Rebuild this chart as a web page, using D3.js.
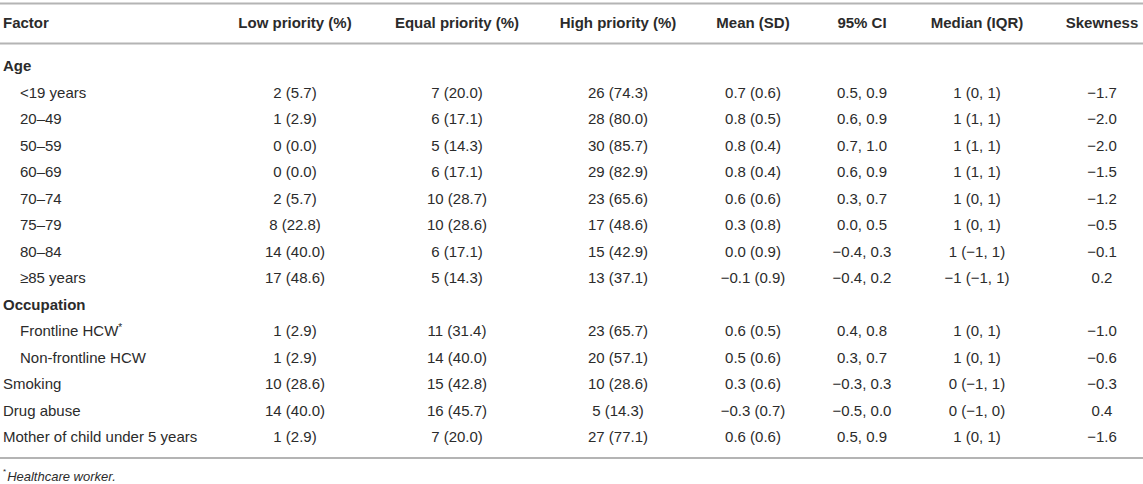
<!DOCTYPE html>
<html lang="en">
<head>
<meta charset="UTF-8">
<title>Priority by factor</title>
<script src="https://d3js.org/d3.v7.min.js"></script>
<style>
  body { margin: 0; background: #fff; }
  text { font-family: "Liberation Sans", Arial, Helvetica, sans-serif; fill: #2b2b2b; }
</style>
</head>
<body>
<div id="table"></div>
<script>
// row labels (group = heading the row sits under, null for top level rows)
const factors = ["<19 years", "20–49", "50–59", "60–69", "70–74", "75–79", "80–84", "≥85 years",
                 "Frontline HCW", "Non-frontline HCW", "Smoking", "Drug abuse", "Mother of child under 5 years"];
const groups = ["Age", "Age", "Age", "Age", "Age", "Age", "Age", "Age",
                "Occupation", "Occupation", null, null, null];
const footnoteRow = "Frontline HCW";

const columns = ["Factor", "Low priority (%)", "Equal priority (%)", "High priority (%)",
                 "Mean (SD)", "95% CI", "Median (IQR)", "Skewness"];

// values
const lowN = [2, 1, 0, 0, 2, 8, 14, 17, 1, 1, 10, 14, 1];
const lowPct = [5.7, 2.9, 0.0, 0.0, 5.7, 22.8, 40.0, 48.6, 2.9, 2.9, 28.6, 40.0, 2.9];
const equalN = [7, 6, 5, 6, 10, 10, 6, 5, 11, 14, 15, 16, 7];
const equalPct = [20.0, 17.1, 14.3, 17.1, 28.7, 28.6, 17.1, 14.3, 31.4, 40.0, 42.8, 45.7, 20.0];
const highN = [26, 28, 30, 29, 23, 17, 15, 13, 23, 20, 10, 5, 27];
const highPct = [74.3, 80.0, 85.7, 82.9, 65.6, 48.6, 42.9, 37.1, 65.7, 57.1, 28.6, 14.3, 77.1];
const mean = [0.7, 0.8, 0.8, 0.8, 0.6, 0.3, 0.0, -0.1, 0.6, 0.5, 0.3, -0.3, 0.6];
const sd = [0.6, 0.5, 0.4, 0.4, 0.6, 0.8, 0.9, 0.9, 0.5, 0.6, 0.6, 0.7, 0.6];
const ciLow = [0.5, 0.6, 0.7, 0.6, 0.3, 0.0, -0.4, -0.4, 0.4, 0.3, -0.3, -0.5, 0.5];
const ciHigh = [0.9, 0.9, 1.0, 0.9, 0.7, 0.5, 0.3, 0.2, 0.8, 0.7, 0.3, 0.0, 0.9];
const median = [1, 1, 1, 1, 1, 1, 1, -1, 1, 1, 0, 0, 1];
const q1 = [0, 1, 1, 1, 0, 0, -1, -1, 0, 0, -1, -1, 0];
const q3 = [1, 1, 1, 1, 1, 1, 1, 1, 1, 1, 1, 0, 1];
const skewness = [-1.7, -2.0, -2.0, -1.5, -1.2, -0.5, -0.1, 0.2, -1.0, -0.6, -0.3, 0.4, -1.6];

const footnote = "Healthcare worker.";

const W = 1143, H = 484;
const f1 = d3.format(".1f"), f0 = d3.format("d");

// build the list of lines: group headings + data rows
const rows = [];
let lastGroup = null;
factors.forEach((f, i) => {
  if (groups[i] && groups[i] !== lastGroup) rows.push({ heading: true, label: groups[i] });
  lastGroup = groups[i];
  rows.push({
    label: f,
    indent: groups[i] != null,
    star: f === footnoteRow,
    cells: [
      `${f0(lowN[i])} (${f1(lowPct[i])})`,
      `${f0(equalN[i])} (${f1(equalPct[i])})`,
      `${f0(highN[i])} (${f1(highPct[i])})`,
      `${f1(mean[i])} (${f1(sd[i])})`,
      `${f1(ciLow[i])}, ${f1(ciHigh[i])}`,
      `${f0(median[i])} (${f0(q1[i])}, ${f0(q3[i])})`,
      f1(skewness[i])
    ]
  });
});

// column centres and row positions
const x = d3.scaleOrdinal()
  .domain(columns.slice(1))
  .range([295, 457, 618, 753, 862, 977, 1102]);
const y = d3.scaleLinear()
  .domain([0, rows.length - 1])
  .range([66, 437]);

const svg = d3.select("#table")
  .append("svg")
    .attr("width", W)
    .attr("height", H);

// rules
svg.append("g").selectAll("line")
  .data([3.5, 43.5, 458])
  .join("line")
    .attr("x1", 0).attr("x2", W)
    .attr("y1", d => d).attr("y2", d => d)
    .attr("stroke", "#b4b4b4")
    .attr("stroke-width", 2);

// header
const header = svg.append("g").attr("font-weight", "bold").attr("font-size", 15);
header.append("text")
  .attr("x", 3).attr("y", 23).attr("dy", "0.35em")
  .text(columns[0]);
header.selectAll("text.col")
  .data(columns.slice(1))
  .join("text")
    .attr("class", "col")
    .attr("x", d => x(d))
    .attr("y", 23).attr("dy", "0.35em")
    .attr("text-anchor", "middle")
    .text(d => d);

// body
const body = svg.append("g").attr("font-size", 15);
const line = body.selectAll("g.row")
  .data(rows)
  .join("g")
    .attr("class", "row")
    .attr("transform", (d, i) => `translate(0,${y(i)})`);

const label = line.append("text")
  .attr("x", d => d.indent ? 20 : 3)
  .attr("dy", "0.35em")
  .attr("font-weight", d => d.heading ? "bold" : null)
  .text(d => d.label);
label.filter(d => d.star)
  .append("tspan")
    .attr("dy", -5)
    .attr("font-size", 10)
    .text("*");

line.filter(d => !d.heading)
  .selectAll("text.cell")
  .data(d => d.cells)
  .join("text")
    .attr("class", "cell")
    .attr("x", (d, j) => x(columns[j + 1]))
    .attr("dy", "0.35em")
    .attr("text-anchor", "middle")
    .text(d => d);

// footnote
const note = svg.append("text")
  .attr("x", 3).attr("y", 478).attr("dy", "0.35em")
  .attr("font-size", 13);
note.append("tspan").attr("font-size", 8).attr("dy", "-0.5em").text("*");
note.append("tspan").attr("font-style", "italic").attr("dy", "0.5em").attr("dx", 1).text(footnote);
</script>
</body>
</html>
